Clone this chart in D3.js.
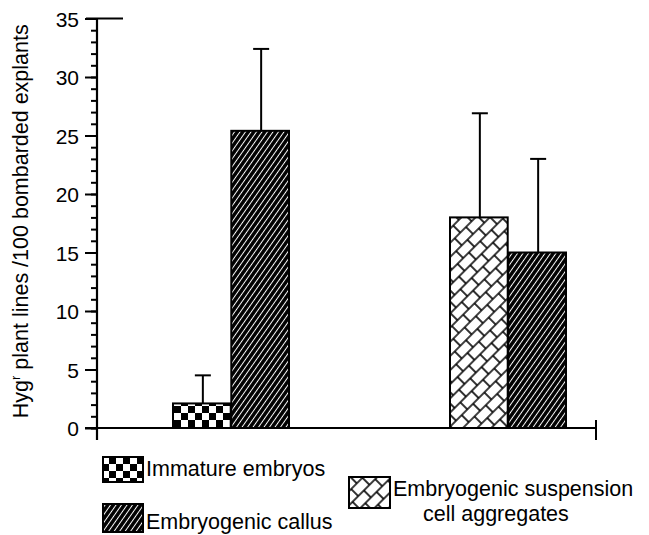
<!DOCTYPE html>
<html>
<head>
<meta charset="utf-8">
<script src="https://cdn.jsdelivr.net/npm/d3@7"></script>
<style>
  body { margin: 0; background: #fff; }
  text { font-family: "Liberation Sans", Arial, Helvetica, sans-serif; fill: #000; }
</style>
</head>
<body>
<div id="chart"></div>
<script>
// data
var groups = ["group1", "group2"];
var barKinds = [["immature", "callus"], ["suspension", "callus"]];
var barMeans = [[2.1, 25.4], [18.0, 15.0]];
var barErrors = [[2.4, 7.0], [8.9, 8.0]];
var yTicks = [0, 5, 10, 15, 20, 25, 30, 35];
var legendKinds = ["immature", "callus", "suspension"];
var legendLabels = [["Immature embryos"], ["Embryogenic callus"], ["Embryogenic suspension", "cell aggregates"]];

var svgWidth = 649, svgHeight = 535;

var svg = d3.select("#chart").append("svg")
  .attr("width", svgWidth)
  .attr("height", svgHeight);

// fill patterns
var defs = svg.append("defs");

var checker = defs.append("pattern")
  .attr("id", "immature")
  .attr("patternUnits", "userSpaceOnUse")
  .attr("width", 14).attr("height", 14)
  .attr("x", 174).attr("y", 0);
checker.append("rect").attr("width", 14).attr("height", 14).attr("fill", "#fff");
checker.append("rect").attr("width", 7).attr("height", 7).attr("fill", "#000");
checker.append("rect").attr("x", 7).attr("y", 7).attr("width", 7).attr("height", 7).attr("fill", "#000");

var hatch = defs.append("pattern")
  .attr("id", "callus")
  .attr("patternUnits", "userSpaceOnUse")
  .attr("width", 4.5).attr("height", 4.5)
  .attr("patternTransform", "rotate(35)");
hatch.append("rect").attr("width", 4.5).attr("height", 4.5).attr("fill", "#000");
hatch.append("line").attr("x1", 2.25).attr("x2", 2.25).attr("y1", 0).attr("y2", 4.5)
  .attr("stroke", "#fff").attr("stroke-width", 1);

var weave = defs.append("pattern")
  .attr("id", "suspension")
  .attr("patternUnits", "userSpaceOnUse")
  .attr("width", 16).attr("height", 20)
  .attr("patternTransform", "rotate(-45)");
weave.append("rect").attr("width", 16).attr("height", 20).attr("fill", "#fff");
weave.append("path")
  .attr("d", "M0,0H16M0,10H16M0,20H16M1,0V10M9,10V20")
  .attr("stroke", "#000").attr("stroke-width", 1.6).attr("fill", "none");

// scales
var y = d3.scaleLinear().domain([0, 35]).range([428, 18.5]);
var xGroup = d3.scalePoint().domain(groups).range([231, 508]);
var xSub = d3.scaleBand().domain([0, 1]).range([-58, 58]).paddingInner(0.01);

// y axis: minor ticks every unit, major every 5
svg.append("g")
  .attr("transform", "translate(97,0)")
  .call(d3.axisLeft(y).ticks(35).tickSize(6).tickFormat(""))
  .call(g => g.select(".domain").remove())
  .call(g => g.selectAll("line").attr("stroke-width", 2));

var yAxis = svg.append("g")
  .attr("transform", "translate(97,0)")
  .call(d3.axisLeft(y).tickValues(yTicks).tickSize(12).tickPadding(6))
  .call(g => g.select(".domain").remove());
yAxis.selectAll("line").attr("stroke-width", 2);
yAxis.selectAll("text")
  .attr("font-size", "21px")
  .attr("font-family", "'Liberation Sans', Arial, sans-serif")
  .attr("dy", "0.36em");

// axis lines
svg.append("line")
  .attr("x1", 97).attr("x2", 97)
  .attr("y1", y(35)).attr("y2", y(0) + 12)
  .attr("stroke", "#000").attr("stroke-width", 2.2);
svg.append("line")
  .attr("x1", 86).attr("x2", 123)
  .attr("y1", y(35)).attr("y2", y(35))
  .attr("stroke", "#000").attr("stroke-width", 2);
svg.append("line")
  .attr("x1", 85).attr("x2", 597)
  .attr("y1", y(0)).attr("y2", y(0))
  .attr("stroke", "#000").attr("stroke-width", 2.2);
svg.append("line")
  .attr("x1", 596).attr("x2", 596)
  .attr("y1", y(0) - 8).attr("y2", y(0) + 12)
  .attr("stroke", "#000").attr("stroke-width", 2);

// y axis title
svg.append("text")
  .attr("transform", "translate(28," + ((y(0) + y(35)) / 2 - 2) + ") rotate(-90)")
  .attr("text-anchor", "middle")
  .attr("font-size", "21.5px")
  .html('Hyg<tspan font-size="13px" dy="-8">r</tspan><tspan dy="8"> plant lines /100 bombarded explants</tspan>');

// bars
var bars = [];
groups.forEach(function(g, gi) {
  barMeans[gi].forEach(function(v, si) {
    bars.push({ group: g, index: si, kind: barKinds[gi][si], value: v, err: barErrors[gi][si] });
  });
});

var barG = svg.append("g");

barG.selectAll("line.err")
  .data(bars)
  .enter()
  .append("line")
  .classed("err", true)
  .attr("x1", d => xGroup(d.group) + xSub(d.index) + xSub.bandwidth() / 2 + 1)
  .attr("x2", d => xGroup(d.group) + xSub(d.index) + xSub.bandwidth() / 2 + 1)
  .attr("y1", d => y(d.value))
  .attr("y2", d => y(d.value + d.err))
  .attr("stroke", "#000").attr("stroke-width", 2);

barG.selectAll("line.cap")
  .data(bars)
  .enter()
  .append("line")
  .classed("cap", true)
  .attr("x1", d => xGroup(d.group) + xSub(d.index) + xSub.bandwidth() / 2 - 7)
  .attr("x2", d => xGroup(d.group) + xSub(d.index) + xSub.bandwidth() / 2 + 9)
  .attr("y1", d => y(d.value + d.err))
  .attr("y2", d => y(d.value + d.err))
  .attr("stroke", "#000").attr("stroke-width", 2);

barG.selectAll("rect.bar")
  .data(bars)
  .enter()
  .append("rect")
  .classed("bar", true)
  .attr("x", d => xGroup(d.group) + xSub(d.index))
  .attr("y", d => y(d.value))
  .attr("width", xSub.bandwidth())
  .attr("height", d => y(0) - y(d.value))
  .attr("fill", d => "url(#" + d.kind + ")")
  .attr("stroke", "#000").attr("stroke-width", 2);

// legend
var legendPos = [[103, 457], [103, 504], [349, 477]];
var legendBox = [[40, 25], [40, 28], [41, 31]];
var legendLineY = [[19], [25], [19, 44]];

var legend = svg.append("g").selectAll("g")
  .data(legendKinds)
  .enter()
  .append("g")
  .attr("transform", (d, i) => "translate(" + legendPos[i][0] + "," + legendPos[i][1] + ")");

legend.append("rect")
  .attr("width", (d, i) => legendBox[i][0])
  .attr("height", (d, i) => legendBox[i][1])
  .attr("fill", d => "url(#" + d + ")")
  .attr("stroke", "#000").attr("stroke-width", 2);

legend.each(function(d, i) {
  var t = d3.select(this).append("text")
    .attr("font-size", "21.5px");
  legendLabels[i].forEach(function(line, li) {
    t.append("tspan")
      .attr("x", li === 0 ? legendBox[i][0] + 3 : legendBox[i][0] + 33)
      .attr("y", legendLineY[i][li])
      .text(line);
  });
});
</script>
</body>
</html>
